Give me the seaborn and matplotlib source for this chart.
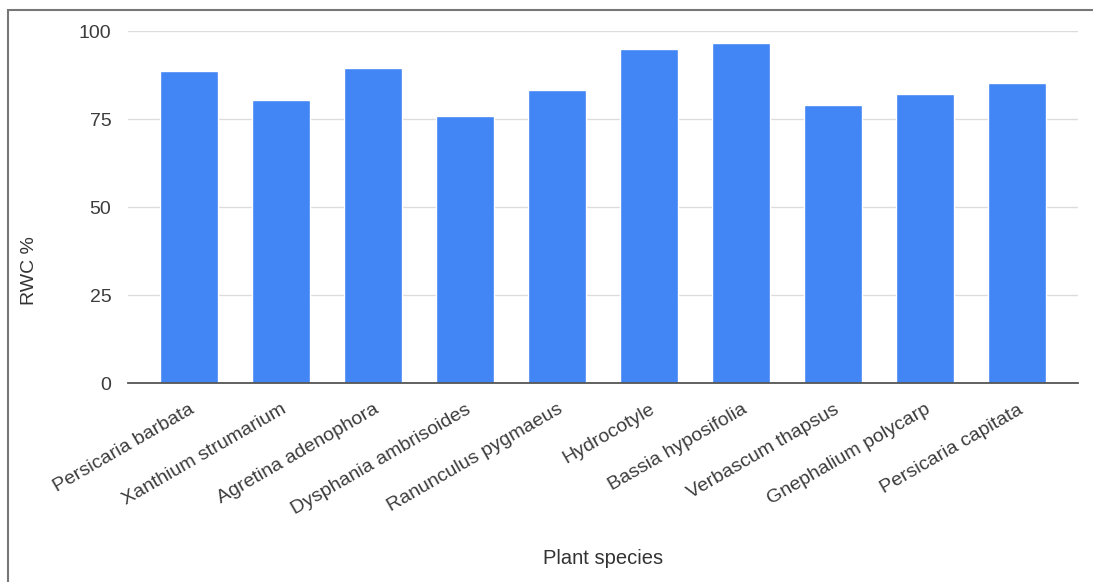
import matplotlib
matplotlib.use("Agg")
import matplotlib.pyplot as plt
import matplotlib.patches as patches
import pandas as pd
import seaborn as sns

# chart values
species = [
    "Persicaria barbata", "Xanthium strumarium", "Agretina adenophora",
    "Dysphania ambrisoides", "Ranunculus pygmaeus", "Hydrocotyle",
    "Bassia hyposifolia", "Verbascum thapsus", "Gnephalium polycarp",
    "Persicaria capitata",
]
rwc = [88.5, 80.5, 89.5, 75.8, 83.3, 95.0, 96.5, 79.0, 82.0, 85.3]
y_ticks = [0, 25, 50, 75, 100]

df = pd.DataFrame({"Plant species": species, "RWC %": rwc})

sns.set_style("white")
plt.rcParams["font.family"] = ["Liberation Sans", "DejaVu Sans"]

fig = plt.figure(figsize=(10.93, 5.82), dpi=100)
ax = fig.add_axes([128 / 1093, 1 - 383 / 582, (1078 - 128) / 1093, (383 - 31) / 582])

sns.barplot(data=df, x="Plant species", y="RWC %", color="#4285f4",
            saturation=1, width=0.63, ax=ax, zorder=3)

ax.set_ylim(0, 100)
ax.set_xlim(-0.66, len(species) - 1 + 0.66)
ax.set_yticks(y_ticks)
ax.grid(axis="y", color="#dcdcdc", linewidth=1, zorder=0)
ax.grid(axis="x", visible=False)
for side in ["top", "right", "left"]:
    ax.spines[side].set_visible(False)
ax.spines["bottom"].set_color("#555555")
ax.spines["bottom"].set_linewidth(1.3)
ax.spines["bottom"].set_zorder(4)

ax.tick_params(axis="y", length=0, pad=12, labelsize=14, labelcolor="#3c3c3c")
ax.tick_params(axis="x", length=0, pad=13, labelsize=14, labelcolor="#3c3c3c")
for lbl in ax.get_xticklabels():
    lbl.set_rotation(30)
    lbl.set_ha("right")
    lbl.set_rotation_mode("anchor")

ax.set_xlabel("Plant species", fontsize=14.5, color="#333333")
ax.set_ylabel("RWC %", fontsize=14, color="#333333")
ax.xaxis.set_label_coords(0.5, -(549 - 383) / 352)
ax.yaxis.set_label_coords((38 - 128) / 950, 0.32)

# grey frame around the picture
frame = patches.Rectangle((8 / 1093, -0.05), 1.1, (582 - 10) / 582 + 0.05,
                          transform=fig.transFigure, fill=False,
                          edgecolor="#777777", linewidth=1.5)
fig.patches.append(frame)

fig.savefig("out.png", dpi=100)
